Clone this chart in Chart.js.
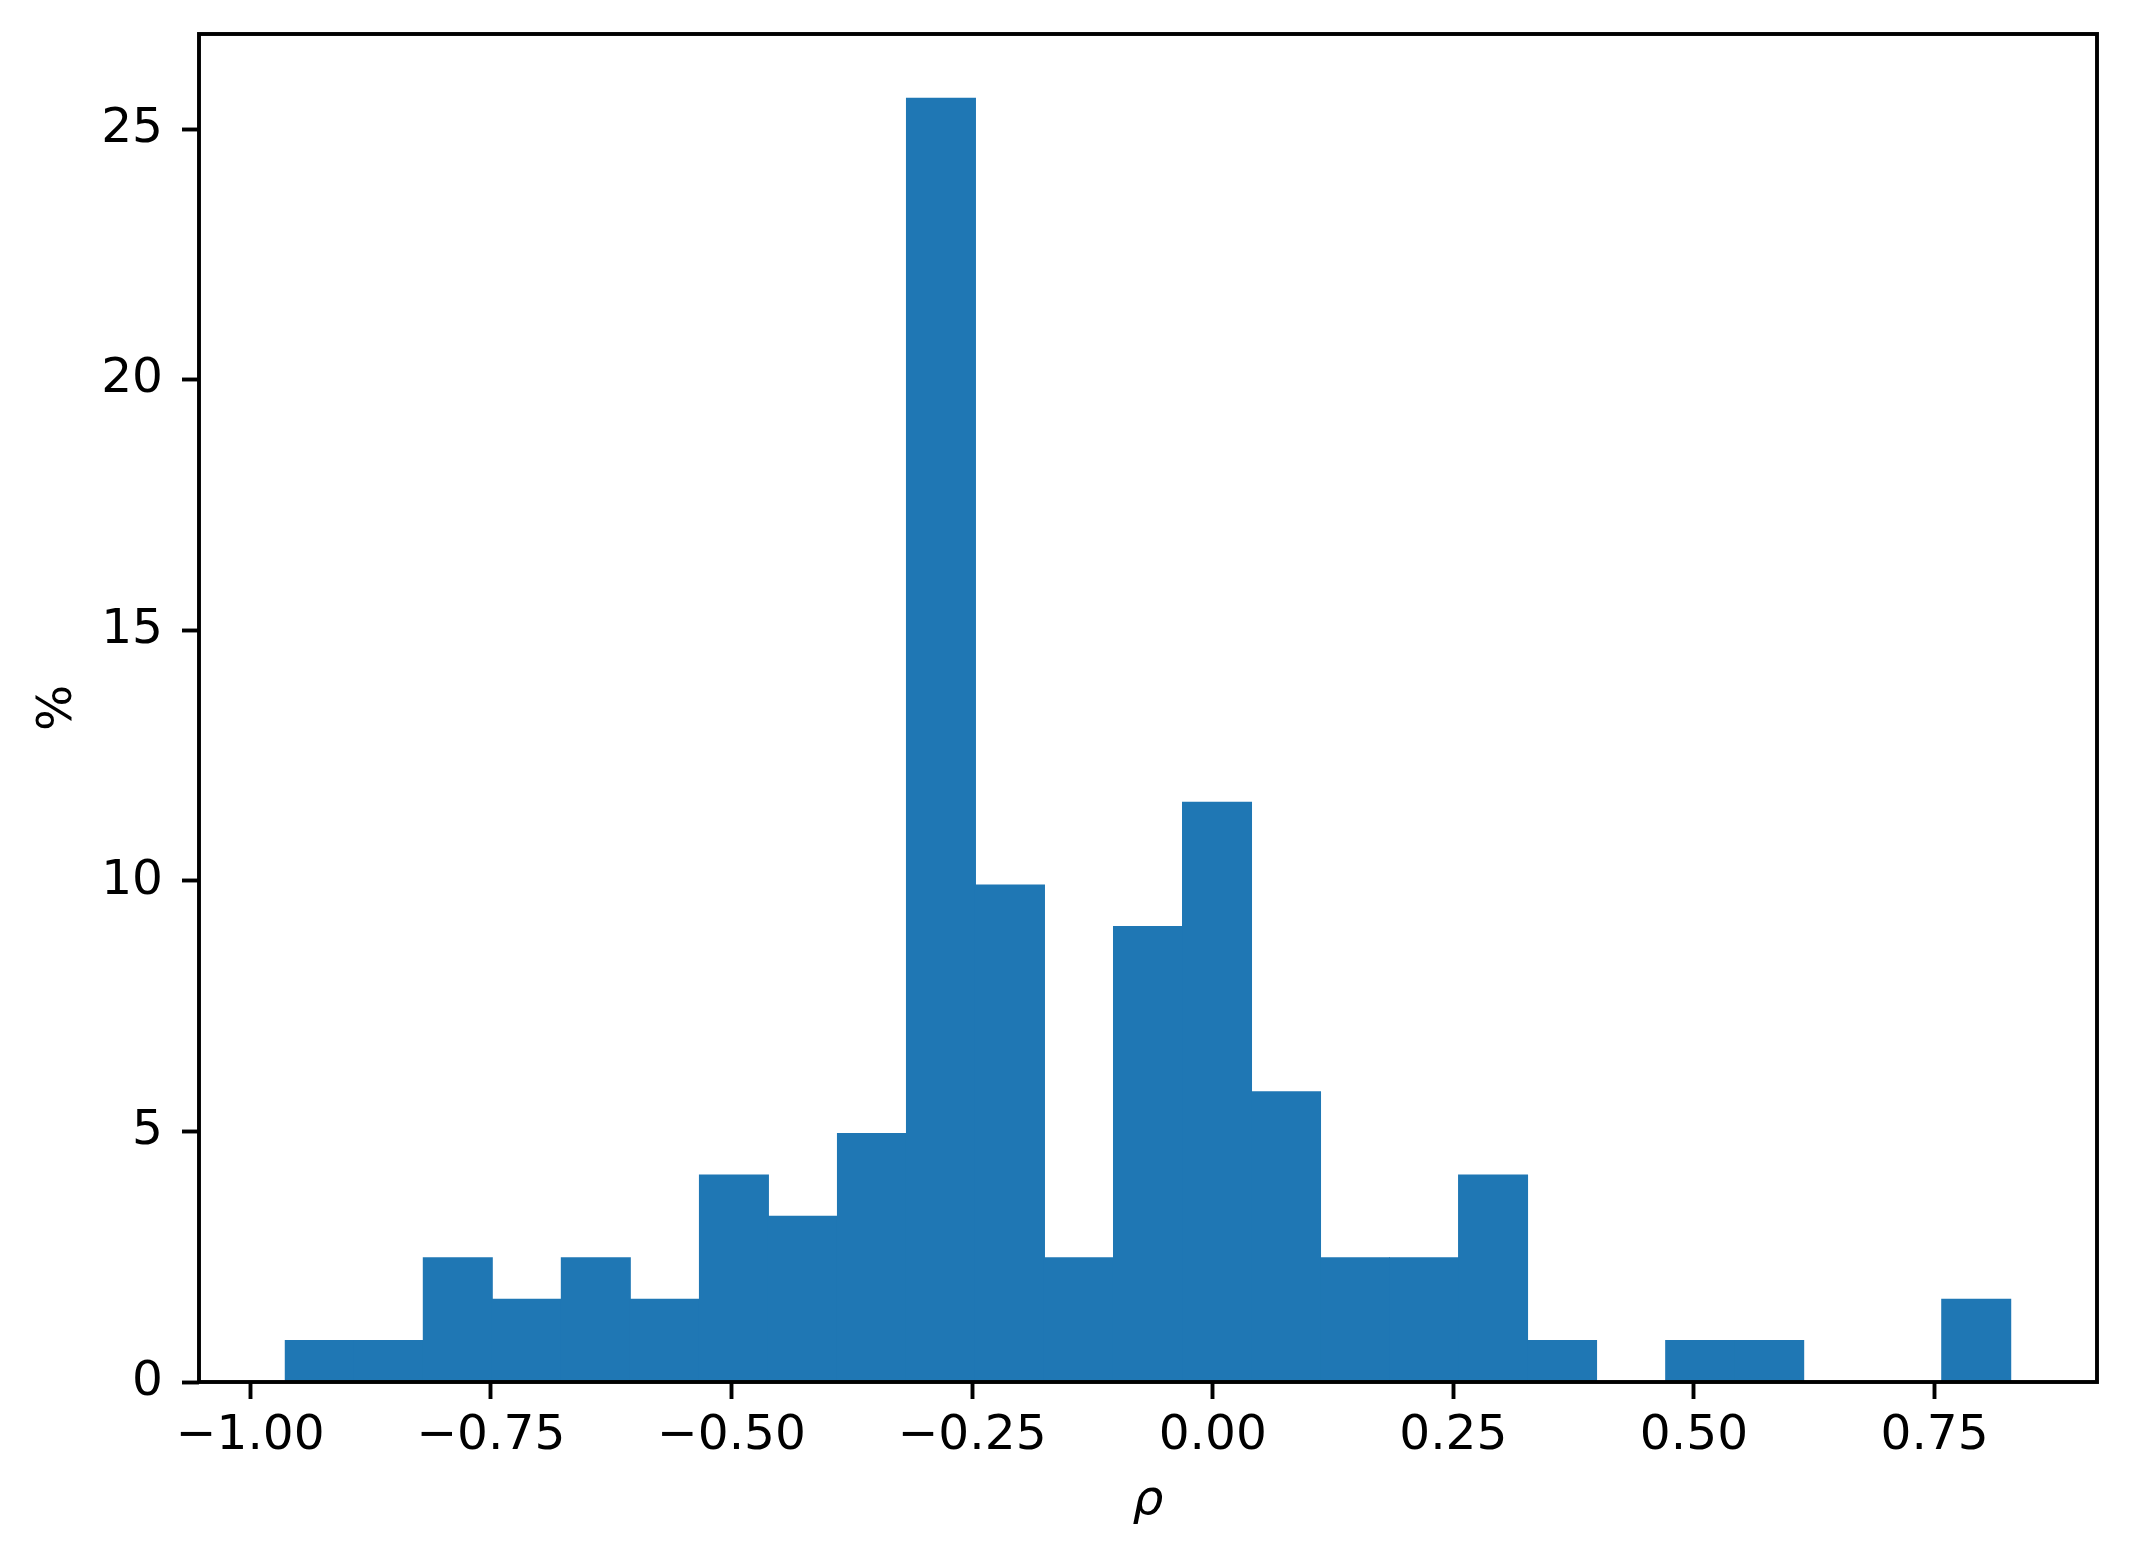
<!DOCTYPE html>
<html>
<head>
<meta charset="utf-8">
<script src="https://cdn.jsdelivr.net/npm/chart.js@4/dist/chart.umd.min.js"></script>
<style>
  html, body { margin: 0; padding: 0; background: #ffffff; }
  canvas { display: block; }
</style>
</head>
<body>
<canvas id="c" width="2132" height="1566" style="width:2132px;height:1566px"></canvas>
<script>
// Histogram bin edges (rho)
const binEdges = [-0.9636, -0.8919, -0.8202, -0.7485, -0.6768, -0.6051, -0.5333, -0.4616,
  -0.3899, -0.3182, -0.2465, -0.1748, -0.1031, -0.0314, 0.0403, 0.1120, 0.1837, 0.2554,
  0.3271, 0.3988, 0.4706, 0.5423, 0.6140, 0.6857, 0.7574, 0.8291];
// Percentage of cases per bin
const percents = [0.83, 0.83, 2.48, 1.65, 2.48, 1.65, 4.13, 3.31, 4.96, 25.62, 9.92, 2.48,
  9.09, 11.57, 5.79, 2.48, 2.48, 4.13, 0.83, 0, 0.83, 0.83, 0, 0, 1.65];
const xTicks = [-1.00, -0.75, -0.50, -0.25, 0.00, 0.25, 0.50, 0.75];
const yTicks = [0, 5, 10, 15, 20, 25];
const xLabel = 'ρ';
const yLabel = '%';

const binCenters = percents.map((_, i) => (binEdges[i] + binEdges[i + 1]) / 2);
const points = percents.map((v, i) => ({ x: binCenters[i], y: v }));
const span = binEdges[binEdges.length - 1] - binEdges[0];
const xMin = binEdges[0] - 0.05 * span;
const xMax = binEdges[binEdges.length - 1] + 0.05 * span;
const yMax = Math.max(...percents) * 1.05;

const FONT = 'DejaVu Sans';
const FS = 48.6;
const LW = 3.9;

const framePlugin = {
  id: 'frame',
  afterDatasetsDraw(chart) {
    const { ctx, chartArea: a } = chart;
    ctx.save();
    ctx.strokeStyle = '#000000';
    ctx.lineWidth = LW;
    ctx.lineJoin = 'miter';
    ctx.strokeRect(a.left, a.top, a.right - a.left, a.bottom - a.top);
    ctx.restore();
  }
};

const fmt = v => (v < 0 ? '\u2212' : '') + Math.abs(v).toFixed(2);

new Chart(document.getElementById('c'), {
  type: 'bar',
  data: {
    datasets: [{
      data: points,
      backgroundColor: '#1f77b4',
      borderWidth: 0,
      inflateAmount: 0.5,
      barPercentage: 1,
      categoryPercentage: 1,
      grouped: false
    }]
  },
  options: {
    responsive: false,
    animation: false,
    devicePixelRatio: 1,
    layout: { padding: { left: 0, top: 34, right: 35, bottom: 0 } },
    plugins: { legend: { display: false }, tooltip: { enabled: false } },
    scales: {
      x: {
        type: 'linear',
        min: xMin,
        max: xMax,
        offset: false,
        afterFit(s) { s.height = 184; s.paddingLeft = 0; s.paddingRight = 0; },
        afterBuildTicks(s) { s.ticks = xTicks.map(v => ({ value: v })); },
        grid: { display: true, drawOnChartArea: false, drawTicks: true, tickLength: 17,
                tickWidth: LW, tickColor: '#000000', offset: false },
        border: { display: false },
        ticks: { color: '#000000', padding: 8, maxRotation: 0, autoSkip: false,
                 font: { family: FONT, size: FS }, callback: v => fmt(v) },
        title: { display: true, text: xLabel, color: '#000000',
                 font: { family: FONT, size: FS, style: 'italic' },
                 padding: { top: 0, bottom: 35 } }
      },
      y: {
        type: 'linear',
        min: 0,
        max: yMax,
        afterFit(s) { s.width = 199; s.paddingTop = 0; s.paddingBottom = 0; },
        afterBuildTicks(s) { s.ticks = yTicks.map(v => ({ value: v })); },
        grid: { display: true, drawOnChartArea: false, drawTicks: true, tickLength: 17,
                tickWidth: LW, tickColor: '#000000' },
        border: { display: false },
        ticks: { color: '#000000', padding: 19, autoSkip: false,
                 font: { family: FONT, size: FS }, callback: v => String(v) },
        title: { display: true, text: yLabel, color: '#000000',
                 font: { family: FONT, size: FS },
                 padding: { top: 29, bottom: 0 } }
      }
    }
  },
  plugins: [framePlugin]
});
</script>
</body>
</html>
